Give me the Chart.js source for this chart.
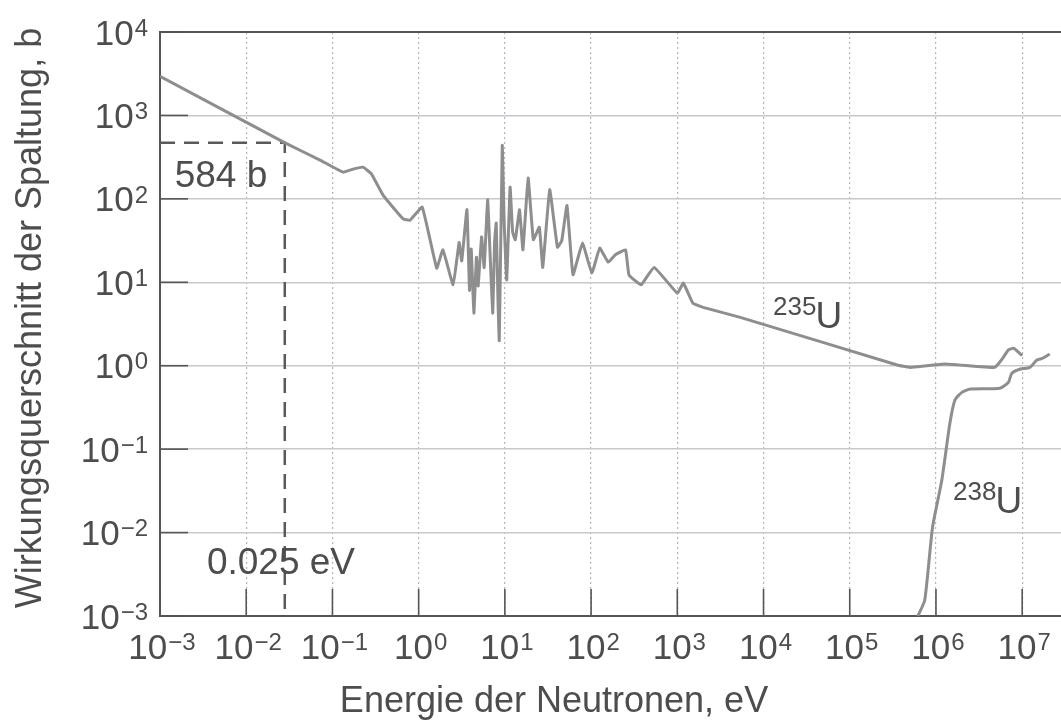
<!DOCTYPE html>
<html lang="de">
<head>
<meta charset="utf-8">
<title>Wirkungsquerschnitt der Spaltung</title>
<script src="https://cdn.jsdelivr.net/npm/chart.js@4.4.1/dist/chart.umd.min.js"></script>
<style>
  html, body { margin: 0; padding: 0; background: #fff; }
</style>
</head>
<body>
<canvas id="chart" width="1061" height="725"></canvas>
<script>
// Energie der Neutronen (eV) und Wirkungsquerschnitt (b)
const energieU235 = [0.001, 0.0282, 0.0718, 0.133, 0.178, 0.226, 0.282, 0.386, 0.661, 0.794,
  1.10, 1.62, 1.91, 2.51, 2.95, 3.16, 3.63, 3.89, 4.07, 4.37, 4.68, 4.90, 5.37, 5.75, 6.31,
  6.76, 7.24, 7.59, 7.94, 8.32, 8.61, 9.33, 9.77, 10.5, 11.5, 12.3, 13.2, 14.8, 16.2, 18.6,
  21.4, 25.1, 27.5, 33.1, 40.7, 45.7, 52.5, 61.7, 79.4, 102, 126, 158, 191, 251, 275, 380,
  537, 1000, 1175, 1514, 1995, 5370, 3.55e5, 5.0e5, 1.26e6, 3.16e6, 4.79e6, 5.75e6, 6.92e6,
  7.94e6, 1.0e7];
const sigmaU235 = [2950, 468, 292, 209, 229, 240, 200, 111, 57.5, 55.6,
  79.4, 14.8, 24.5, 9.33, 30, 18, 74.1, 8, 25, 4.27, 20, 9, 35, 15, 97.7,
  20, 4.27, 30, 51.3, 6, 2.0, 437, 60, 10.7, 138, 40, 32.4, 74.1, 24.5, 178,
  32.4, 45.7, 15.1, 129, 26.3, 31.6, 83.2, 12.3, 29.5, 12.9, 25.7, 17.4, 21.4, 24.5, 12.3, 9.33,
  15.1, 7.41, 9.77, 5.62, 5.01, 3.80, 1.02, 0.955, 1.05, 0.977, 0.955, 1.17, 1.55,
  1.62, 1.32];

const energieU238 = [6.17e5, 7.41e5, 9.12e5, 1.17e6, 1.45e6, 1.66e6, 2.0e6, 2.51e6, 5.5e6,
  6.92e6, 7.59e6, 9.55e6, 1.23e7, 1.48e7, 1.74e7, 2.09e7];
const sigmaU238 = [0.001, 0.00155, 0.0115, 0.0427, 0.204, 0.389, 0.479, 0.525, 0.537,
  0.631, 0.813, 0.912, 0.955, 1.17, 1.23, 1.38];

// gestrichelte Markierung bei thermischen Neutronen
const markeEnergie = [0.001, 0.028, 0.028];
const markeSigma = [470, 470, 0.001];

// Achsen: Dekaden und Exponenten der Beschriftung
const xWerte = [1e-3, 1e-2, 1e-1, 1e0, 1e1, 1e2, 1e3, 1e4, 1e5, 1e6, 1e7];
const xExponenten = ['-3', '-2', '-1', '0', '1', '2', '3', '4', '5', '6', '7'];
const yWerte = [1e-3, 1e-2, 1e-1, 1e0, 1e1, 1e2, 1e3, 1e4];
const yExponenten = ['-3', '-2', '-1', '0', '1', '2', '3', '4'];

const schrift = '"Liberation Sans", Arial, sans-serif';
const textFarbe = '#4d4d4d';
const achsenFarbe = '#555555';

const punkte = (xs, ys) => xs.map((x, i) => ({ x: x, y: ys[i] }));

function zehnHoch(ctx, exp, x, yMitte, align) {
  const gross = 35, klein = 24;
  ctx.font = gross + 'px ' + schrift;
  const wb = ctx.measureText('10').width;
  const hoch = exp.replace('-', '\u2212');
  ctx.font = klein + 'px ' + schrift;
  const wh = ctx.measureText(hoch).width;
  const gesamt = wb + 1 + wh;
  const x0 = align === 'center' ? x - gesamt / 2 : x - gesamt;
  const basis = yMitte + gross * 0.36;
  ctx.textAlign = 'left';
  ctx.textBaseline = 'alphabetic';
  ctx.font = gross + 'px ' + schrift;
  ctx.fillText('10', x0, basis);
  ctx.font = klein + 'px ' + schrift;
  ctx.fillText(hoch, x0 + wb + 1, basis - gross * 0.72 + klein * 0.72 - 1);
}

function isotop(ctx, chart, masse, ex, ey) {
  const px = chart.scales.x.getPixelForValue(ex);
  const py = chart.scales.y.getPixelForValue(ey);
  ctx.textAlign = 'right';
  ctx.textBaseline = 'alphabetic';
  ctx.font = '26px ' + schrift;
  ctx.fillText(masse, px + 1, py - 13);
  ctx.textAlign = 'left';
  ctx.font = '37px ' + schrift;
  ctx.fillText('U', px, py);
}

const beschriftung = {
  id: 'beschriftung',
  afterDatasetsDraw(chart) {
    const ctx = chart.ctx;
    const a = chart.chartArea;
    const sx = chart.scales.x, sy = chart.scales.y;
    ctx.save();
    // obere Rahmenlinie
    ctx.strokeStyle = achsenFarbe;
    ctx.lineWidth = 2;
    ctx.beginPath();
    ctx.moveTo(a.left, a.top);
    ctx.lineTo(a.right, a.top);
    ctx.stroke();
    // innere Teilstriche
    ctx.lineWidth = 1.6;
    yWerte.forEach(v => {
      const py = sy.getPixelForValue(v);
      ctx.beginPath();
      ctx.moveTo(a.left, py);
      ctx.lineTo(a.left + 28, py);
      ctx.stroke();
    });
    xWerte.forEach(v => {
      const px = sx.getPixelForValue(v);
      ctx.beginPath();
      ctx.moveTo(px, a.bottom);
      ctx.lineTo(px, a.bottom - 27);
      ctx.stroke();
    });

    ctx.fillStyle = textFarbe;
    yWerte.forEach((v, i) => zehnHoch(ctx, yExponenten[i], a.left - 12, sy.getPixelForValue(v), 'right'));
    xWerte.forEach((v, i) => zehnHoch(ctx, xExponenten[i], sx.getPixelForValue(v) + 2, a.bottom + 30, 'center'));

    // Achsentitel
    ctx.font = '36px ' + schrift;
    ctx.textAlign = 'center';
    ctx.textBaseline = 'middle';
    ctx.fillText('Energie der Neutronen, eV', 554, 702);
    ctx.save();
    ctx.translate(31, 318);
    ctx.rotate(-Math.PI / 2);
    ctx.fillText('Wirkungsquerschnitt der Spaltung, b', 0, 0);
    ctx.restore();

    // Markierungstexte
    ctx.font = '37px ' + schrift;
    ctx.textAlign = 'left';
    ctx.textBaseline = 'alphabetic';
    ctx.fillText('584 b', sx.getPixelForValue(0.00148), sy.getPixelForValue(138));
    ctx.fillText('0.025 eV', sx.getPixelForValue(0.0035), sy.getPixelForValue(0.0032));

    isotop(ctx, chart, '235', 4.0e4, 2.8);
    isotop(ctx, chart, '238', 4.9e6, 0.017);
    ctx.restore();
  }
};

new Chart(document.getElementById('chart'), {
  type: 'line',
  data: {
    datasets: [
      {
        label: '235U',
        data: punkte(energieU235, sigmaU235),
        borderColor: '#8e8e8e',
        borderWidth: 3,
        pointRadius: 0,
        tension: 0.1
      },
      {
        label: '238U',
        data: punkte(energieU238, sigmaU238),
        borderColor: '#8e8e8e',
        borderWidth: 3,
        pointRadius: 0,
        tension: 0.2
      },
      {
        label: 'Markierung',
        data: punkte(markeEnergie, markeSigma),
        borderColor: '#5a5a5a',
        borderWidth: 2.5,
        borderDash: [15, 9],
        pointRadius: 0,
        tension: 0
      }
    ]
  },
  options: {
    responsive: false,
    animation: false,
    devicePixelRatio: 1,
    layout: { padding: { left: 160, top: 32, right: 0, bottom: 109 } },
    plugins: {
      legend: { display: false },
      tooltip: { enabled: false }
    },
    scales: {
      x: {
        type: 'logarithmic',
        min: 1e-3,
        max: 2.82e7,
        afterBuildTicks: s => { s.ticks = xWerte.map(v => ({ value: v })); },
        ticks: { display: false },
        grid: { color: '#b4b4bc', lineWidth: 1.2, drawTicks: false },
        border: { display: true, color: achsenFarbe, width: 2, dash: [2, 3] }
      },
      y: {
        type: 'logarithmic',
        min: 1e-3,
        max: 1e4,
        afterBuildTicks: s => { s.ticks = yWerte.map(v => ({ value: v })); },
        ticks: { display: false },
        grid: { color: '#cbc6cc', lineWidth: 1.4, drawTicks: false },
        border: { display: true, color: achsenFarbe, width: 2 }
      }
    }
  },
  plugins: [beschriftung]
});
</script>
</body>
</html>
